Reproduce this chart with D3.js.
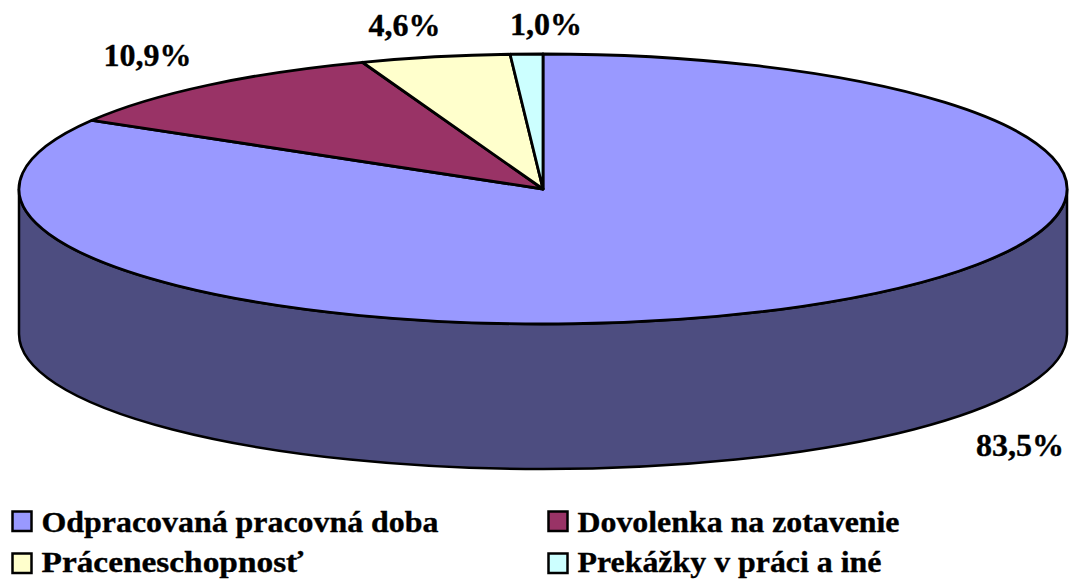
<!DOCTYPE html>
<html><head><meta charset="utf-8">
<script src="https://cdn.jsdelivr.net/npm/d3@7/dist/d3.min.js"></script>
<style>html,body{margin:0;padding:0;background:#fff;overflow:hidden}svg{display:block}text{font-family:"Liberation Serif",serif;font-weight:bold;fill:#000;stroke:#000;stroke-width:.35px}</style>
</head><body><svg id="c" width="1070" height="579"></svg>
<script>
const categories=["Odpracovaná pracovná doba","Dovolenka na zotavenie","Práceneschopnosť","Prekážky v práci a iné"];
const values=[83.5,10.9,4.6,1.0];
const valueLabels=["83,5%","10,9%","4,6%","1,0%"];
const colors=["#9999ff","#993366","#ffffcc","#ccffff"];
const sideColor="#4d4d80";
const W=1070,H=579,cx=543,cy=189,rx=524,ry=135,depth=145;
const svg=d3.select("#c");
const arcs=d3.pie().sort(null).value(d=>d)(values);
const pt=a=>[cx+rx*Math.sin(a),cy-ry*Math.cos(a)];
const sector=(a0,a1)=>{
  const p0=pt(a0),p1=pt(a1),large=(a1-a0)>Math.PI?1:0;
  return `M${cx},${cy}L${p0[0]},${p0[1]}A${rx},${ry} 0 ${large} 1 ${p1[0]},${p1[1]}Z`;
};
svg.append("path")
 .attr("d",`M${cx-rx},${cy}A${rx},${ry} 0 0 0 ${cx+rx},${cy}L${cx+rx},${cy+depth}A${rx},${ry} 0 0 1 ${cx-rx},${cy+depth}Z`)
 .attr("fill",sideColor).attr("stroke","#000").attr("stroke-width",2.5);
svg.selectAll("path.s").data(arcs).enter().append("path").attr("class","s")
 .attr("d",d=>sector(d.startAngle,d.endAngle))
 .attr("fill",(d,i)=>colors[i]).attr("stroke","#000").attr("stroke-width",2.8).attr("stroke-linejoin","round");
const labelPos=[[1020,456],[147.5,66],[404.5,36],[546,35]];
svg.selectAll("text.v").data(valueLabels).enter().append("text").attr("class","v")
 .attr("x",(d,i)=>labelPos[i][0]).attr("y",(d,i)=>labelPos[i][1])
 .attr("text-anchor","middle").attr("font-size",32).text(d=>d);
const lx=[11,547],ly=[521,563],textY=[532,571.5];
const legendWidths=[397,322,262,304];
categories.forEach((c,i)=>{
  const x=lx[i%2],r=Math.floor(i/2),y=ly[r];
  svg.append("rect").attr("x",x+1.5).attr("y",y-9.5).attr("width",19).attr("height",19.5)
   .attr("fill",colors[i]).attr("stroke","#000").attr("stroke-width",2.5);
  svg.append("text").attr("x",x+30.5).attr("y",textY[r]).attr("font-size",30).attr("textLength",legendWidths[i]).attr("lengthAdjust","spacingAndGlyphs").text(c);
});
</script></body></html>
